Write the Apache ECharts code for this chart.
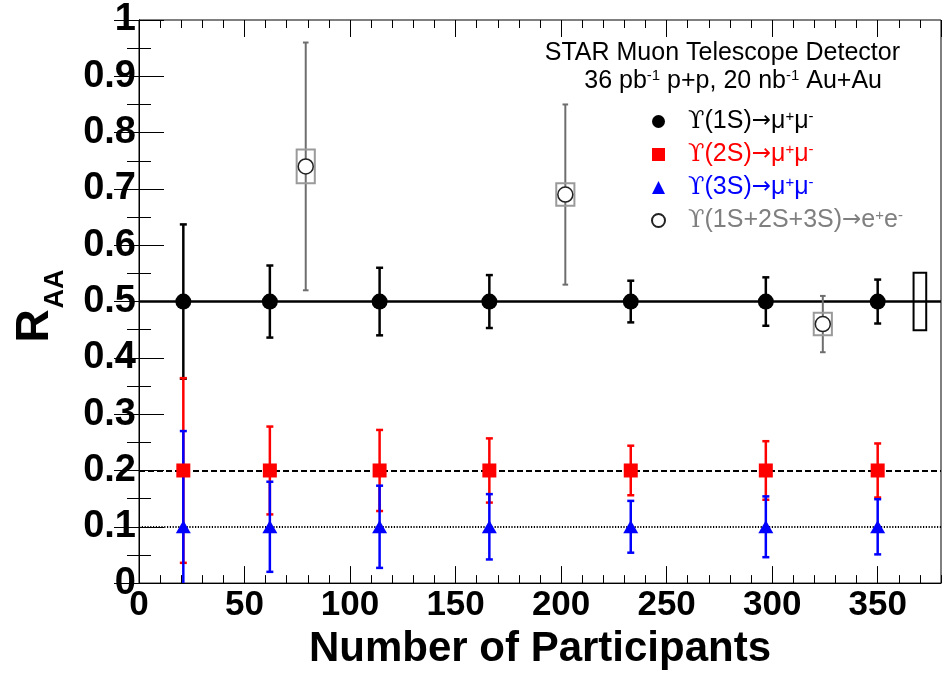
<!DOCTYPE html>
<html>
<head>
<meta charset="utf-8">
<script src="https://cdn.jsdelivr.net/npm/echarts@6/dist/echarts.min.js"></script>
<style>
  html, body { margin: 0; padding: 0; background: #fff; }
  #chart { width: 946px; height: 675px; }
</style>
</head>
<body>
<div id="chart"></div>
<script>
// Upsilon R_AA versus centrality (number of participants)

// Centrality bins for the dimuon channel
const npart = [21, 62, 114, 166, 233, 297, 350];

// Upsilon(1S) -> mu+ mu-
const raa1S = [0.5, 0.5, 0.5, 0.5, 0.5, 0.5, 0.5];
const stat1S = [0.137, 0.064, 0.06, 0.047, 0.037, 0.043, 0.039];

// Upsilon(2S) -> mu+ mu-
const raa2S = [0.2, 0.2, 0.2, 0.2, 0.2, 0.2, 0.2];
const stat2S = [0.164, 0.078, 0.072, 0.057, 0.044, 0.052, 0.048];

// Upsilon(3S) -> mu+ mu-
const raa3S = [0.1, 0.1, 0.1, 0.1, 0.1, 0.1, 0.1];
const stat3S = [0.17, 0.08, 0.073, 0.058, 0.046, 0.054, 0.049];

// Upsilon(1S+2S+3S) -> e+ e-
const npartEE = [79, 202, 324];
const raaEE = [0.74, 0.69, 0.46];
const statEE = [0.22, 0.16, 0.05];
const sysEE = [0.03, 0.02, 0.02];

// Global normalisation uncertainty (drawn beside the last bin)
const globalNpart = [370];
const globalLevel = [0.5];
const globalUnc = [0.051];

// Expected suppression levels drawn as horizontal guides
const refLevels = [0.5, 0.2, 0.1];

// Legend entries
const seriesKeys = ['ups1S', 'ups2S', 'ups3S', 'upsEE'];
const legendLabels = [
  '{u|\u03D2}{t|(1S)}{a|\u2192}{t|\u03BC}{s|+}{t|\u03BC}{s|-}',
  '{u|\u03D2}{t|(2S)}{a|\u2192}{t|\u03BC}{s|+}{t|\u03BC}{s|-}',
  '{u|\u03D2}{t|(3S)}{a|\u2192}{t|\u03BC}{s|+}{t|\u03BC}{s|-}',
  '{u|\u03D2}{t|(1S+2S+3S)}{a|\u2192}{t|e}{s|+}{t|e}{s|-}'
];
const legendColors = ['#000000', '#ff0000', '#0000ff', '#7f7f7f'];

const FONT = '"Liberation Sans", Arial, Helvetica, sans-serif';
const SYM_FONT = '"DejaVu Sans", sans-serif';
const X_MIN = 0, X_MAX = 380;

function errorBars(name, xs, ys, errs, color, width, capHalf, z) {
  return {
    type: 'custom',
    name: name,
    xAxisIndex: 0,
    yAxisIndex: 0,
    z: z,
    clip: true,
    silent: true,
    data: xs.map((x, i) => [x, ys[i], errs[i]]),
    renderItem: function (params, api) {
      const x = api.value(0), y = api.value(1), e = api.value(2);
      const top = api.coord([x, y + e]);
      const bot = api.coord([x, y - e]);
      const st = { stroke: color, lineWidth: width };
      return {
        type: 'group',
        children: [
          { type: 'line', shape: { x1: top[0], y1: top[1], x2: bot[0], y2: bot[1] }, style: st },
          { type: 'line', shape: { x1: top[0] - capHalf, y1: top[1], x2: top[0] + capHalf, y2: top[1] }, style: st },
          { type: 'line', shape: { x1: bot[0] - capHalf, y1: bot[1], x2: bot[0] + capHalf, y2: bot[1] }, style: st }
        ]
      };
    }
  };
}

function errorBoxes(name, xs, ys, errs, halfWidth, color, width, z) {
  return {
    type: 'custom',
    name: name,
    xAxisIndex: 0,
    yAxisIndex: 0,
    z: z,
    clip: true,
    silent: true,
    data: xs.map((x, i) => [x, ys[i], errs[i]]),
    renderItem: function (params, api) {
      const x = api.value(0), y = api.value(1), e = api.value(2);
      const p1 = api.coord([x - halfWidth, y + e]);
      const p2 = api.coord([x + halfWidth, y - e]);
      return {
        type: 'rect',
        shape: { x: p1[0], y: p1[1], width: p2[0] - p1[0], height: p2[1] - p1[1] },
        style: { fill: 'none', stroke: color, lineWidth: width }
      };
    }
  };
}

function guide(level, type, width) {
  return {
    silent: true,
    symbol: ['none', 'none'],
    label: { show: false },
    lineStyle: { color: '#000', width: width, type: type, opacity: 1 },
    emphasis: { disabled: true },
    data: [{ yAxis: level }]
  };
}

const tickLine = { show: false };
const xAxisBase = { type: 'value', min: X_MIN, max: X_MAX, gridIndex: 0 };
const yAxisBase = { type: 'value', min: 0, max: 1, interval: 0.1, gridIndex: 0 };

const option = {
  animation: false,
  backgroundColor: '#fff',
  grid: {
    left: 139, right: 5, top: 20, bottom: 86,
    show: true, borderColor: '#000', borderWidth: 1, backgroundColor: '#fff'
  },
  xAxis: [
    Object.assign({}, xAxisBase, {
      position: 'bottom', interval: 50,
      name: 'Number of Participants', nameLocation: 'middle', nameGap: 34,
      nameTextStyle: { fontFamily: FONT, fontWeight: 'bold', fontSize: 42, color: '#000' },
      axisLine: { show: true, lineStyle: { color: '#000', width: 1 } },
      axisTick: { show: true, inside: true, length: 17, lineStyle: { color: '#000', width: 1 } },
      axisLabel: { show: true, margin: 5, showMaxLabel: false, fontFamily: FONT, fontWeight: 'bold', fontSize: 35, color: '#000' },
      splitLine: { show: false }
    }),
    Object.assign({}, xAxisBase, {
      position: 'bottom', interval: 10,
      axisLine: tickLine,
      axisTick: { show: true, inside: true, length: 8, lineStyle: { color: '#000', width: 1 } },
      axisLabel: { show: false },
      splitLine: { show: false }
    }),
    Object.assign({}, xAxisBase, {
      position: 'top', interval: 50,
      axisLine: tickLine,
      axisTick: { show: true, inside: true, length: 17, lineStyle: { color: '#000', width: 1 } },
      axisLabel: { show: false },
      splitLine: { show: false }
    }),
    Object.assign({}, xAxisBase, {
      position: 'top', interval: 10,
      axisLine: tickLine,
      axisTick: { show: true, inside: true, length: 8, lineStyle: { color: '#000', width: 1 } },
      axisLabel: { show: false },
      splitLine: { show: false }
    })
  ],
  yAxis: [
    Object.assign({}, yAxisBase, {
      position: 'left',
      axisLine: { show: true, lineStyle: { color: '#000', width: 1 } },
      axisTick: { show: true, inside: true, length: 25, lineStyle: { color: '#000', width: 1 } },
      minorTick: { show: true, splitNumber: 2, length: 12, lineStyle: { color: '#000', width: 1 } },
      axisLabel: {
        show: true, margin: 3, fontFamily: FONT, fontWeight: 'bold', fontSize: 38, color: '#000',
        formatter: v => String(+v.toFixed(1))
      },
      splitLine: { show: false }
    }),
    Object.assign({}, yAxisBase, {
      position: 'right',
      axisLine: { show: true, lineStyle: { color: '#000', width: 1 } },
      axisTick: { show: true, inside: true, length: 25, lineStyle: { color: '#000', width: 1 } },
      minorTick: { show: true, splitNumber: 2, length: 12, lineStyle: { color: '#000', width: 1 } },
      axisLabel: { show: false },
      splitLine: { show: false }
    })
  ],
  legend: {
    orient: 'vertical',
    left: 651, top: 109,
    padding: 0,
    itemGap: 8,
    itemWidth: 13, itemHeight: 13,
    selectedMode: false,
    data: seriesKeys.map((k, i) => ({ name: k, textStyle: { color: legendColors[i] } })),
    formatter: name => legendLabels[seriesKeys.indexOf(name)],
    textStyle: {
      fontFamily: FONT, fontSize: 25, padding: [0, 0, 0, 18],
      rich: {
        t: { fontFamily: FONT, fontSize: 25, lineHeight: 25 },
        a: { fontFamily: SYM_FONT, fontSize: 23, lineHeight: 25 },
        u: { fontFamily: '"DejaVu Serif", "Liberation Serif", serif', fontSize: 24, lineHeight: 25 },
        s: { fontFamily: FONT, fontSize: 15, lineHeight: 15, verticalAlign: 'top' }
      }
    }
  },
  graphic: [
    {
      type: 'text', x: 900, y: 53, z: 100, silent: true,
      style: {
        text: 'STAR Muon Telescope Detector', align: 'right', verticalAlign: 'middle',
        fontFamily: FONT, fontSize: 25, fill: '#000'
      }
    },
    {
      type: 'text', x: 882, y: 81, z: 100, silent: true,
      style: {
        text: '{t|36 pb}{s|-1}{t| p+p, 20 nb}{s|-1}{t| Au+Au}',
        align: 'right', verticalAlign: 'middle',
        fontFamily: FONT, fontSize: 25, fill: '#000',
        rich: {
          t: { fontFamily: FONT, fontSize: 25, lineHeight: 25 },
          s: { fontFamily: FONT, fontSize: 15, lineHeight: 15, verticalAlign: 'top' }
        }
      }
    },
    {
      type: 'text', x: 35, y: 326, rotation: Math.PI / 2, z: 100, silent: true,
      style: {
        text: 'R', align: 'center', verticalAlign: 'middle',
        fontFamily: FONT, fontWeight: 'bold', fontSize: 46, fill: '#000'
      }
    },
    {
      type: 'text', x: 56, y: 289, rotation: Math.PI / 2, z: 100, silent: true,
      style: {
        text: 'AA', align: 'center', verticalAlign: 'middle',
        fontFamily: FONT, fontWeight: 'bold', fontSize: 27, fill: '#000'
      }
    }
  ],
  series: [
    // statistical error bars
    errorBars('err1S', npart, raa1S, stat1S, '#000', 2.5, 3.5, 3),
    errorBars('err2S', npart, raa2S, stat2S, '#ff0000', 2.5, 3.5, 4),
    errorBars('err3S', npart, raa3S, stat3S, '#0000ff', 2.5, 3.5, 5),
    errorBars('errEE', npartEE, raaEE, statEE, '#6e6e6e', 2, 2.8, 3),
    // systematic boxes
    errorBoxes('sysEE', npartEE, raaEE, sysEE, 4.3, '#9a9a9a', 2, 6),
    errorBoxes('global', globalNpart, globalLevel, globalUnc, 3, '#000', 2, 6),
    // markers (and the guide levels)
    {
      type: 'scatter', name: 'ups1S', xAxisIndex: 0, yAxisIndex: 0, z: 10, silent: true,
      symbol: 'circle', symbolSize: 16,
      itemStyle: { color: '#000', opacity: 1 },
      data: npart.map((x, i) => [x, raa1S[i]]),
      markLine: Object.assign(guide(refLevels[0], 'solid', 2.5), { z: 2 })
    },
    {
      type: 'scatter', name: 'ups2S', xAxisIndex: 0, yAxisIndex: 0, z: 10, silent: true,
      symbol: 'rect', symbolSize: 14,
      itemStyle: { color: '#ff0000', opacity: 1 },
      data: npart.map((x, i) => [x, raa2S[i]]),
      markLine: Object.assign(guide(refLevels[1], [6, 3], 2), { z: 2 })
    },
    {
      type: 'scatter', name: 'ups3S', xAxisIndex: 0, yAxisIndex: 0, z: 10, silent: true,
      symbol: 'triangle', symbolSize: [15, 13],
      itemStyle: { color: '#0000ff', opacity: 1 },
      data: npart.map((x, i) => [x, raa3S[i]]),
      markLine: Object.assign(guide(refLevels[2], [1.2, 1.6], 2), { z: 2 })
    },
    {
      type: 'scatter', name: 'upsEE', xAxisIndex: 0, yAxisIndex: 0, z: 10, silent: true,
      symbol: 'circle', symbolSize: 15,
      itemStyle: { color: '#ffffff', borderColor: '#222', borderWidth: 1.5, opacity: 1 },
      data: npartEE.map((x, i) => [x, raaEE[i]])
    }
  ]
};

const chart = echarts.init(document.getElementById('chart'), null, { renderer: 'canvas' });
chart.setOption(option);
</script>
</body>
</html>
